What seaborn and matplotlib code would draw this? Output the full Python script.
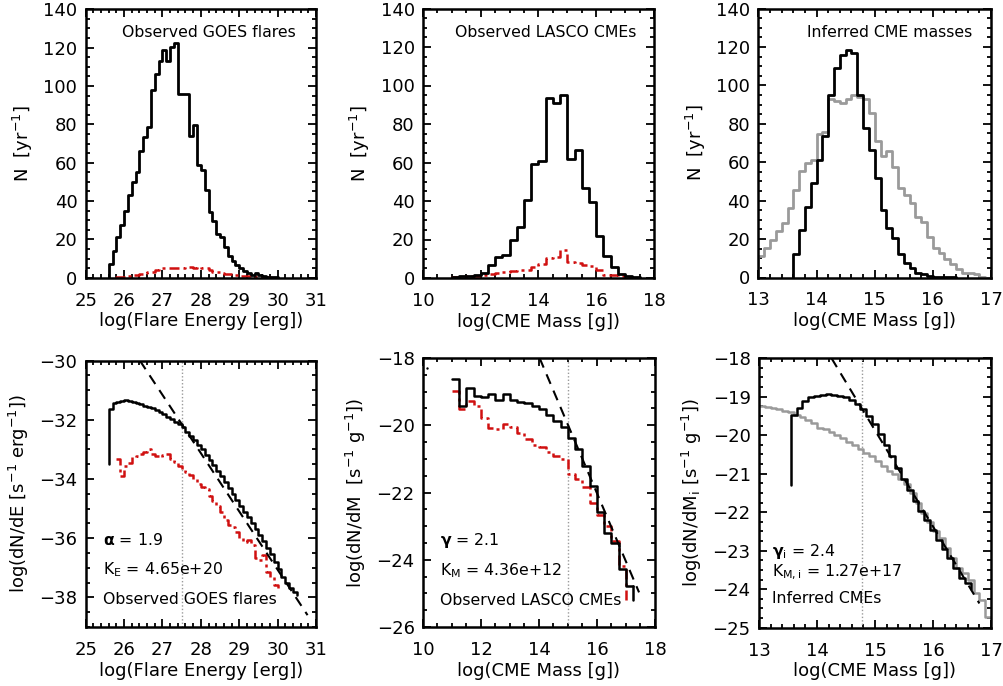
import numpy as np
import matplotlib
matplotlib.use("Agg")
import matplotlib.pyplot as plt
import seaborn as sns
from matplotlib.ticker import MultipleLocator, AutoMinorLocator

# ---------------- data ----------------
# Panel 1: observed GOES flare energy histogram (0.1 dex bins)
goes_start = 25.6
goes_counts = [7, 14, 21, 27.5, 35, 43, 50, 55, 66, 73.5, 78.5, 98, 106, 113, 119, 113,
               120.5, 122.6, 96, 96, 96, 74, 79.6, 58.8, 56, 45.7, 34.4, 29.7, 23, 21, 16,
               11.3, 8.7, 6.6, 5.2, 3.6, 2.3, 1.4, 2.3, 1.2, 0.9, 0.5, 0.3, 0.2]
goes_cme_start = 25.8
goes_cme_counts = [0.2, 0.3, 0.5, 0.8, 1.2, 1.5, 2, 2.5, 3.2, 3, 4, 4.5, 5.2, 5.0, 5.3, 5,
                   4.8, 5.2, 5.6, 5.8, 5.2, 5.5, 5, 4.8, 4, 3.2, 2.8, 2.4, 2, 1.8, 1.5, 1.3,
                   1.1, 1, 0.8, 0.7, 0.5, 0.5, 0.4, 0.3, 0.2, 0.1]

# Panel 2: observed LASCO CME mass histogram (0.25 dex bins)
lasco_start = 11.0
lasco_counts = [0.5, 0.8, 1.2, 1.7, 2.6, 7, 11, 11.8, 20, 26.6, 40.5, 59.3, 61, 93.6, 91,
                95.3, 61.7, 66.3, 47, 39.6, 21.7, 11.3, 5.7, 2.3, 1, 0.3]
lasco_flare_counts = [0.3, 0.5, 0.8, 1, 1.5, 2, 2.5, 3.2, 3.8, 4, 4.3, 5.5, 7.5, 10.2, 11,
                      14.4, 8.3, 7.8, 7, 6, 4, 1.5, 1.8, 0.8, 0.4]

# Panel 3: inferred CME masses (0.1 dex bins)
inf_start = 13.6
inf_counts = [12.2, 24.7, 36.5, 49, 61, 73.4, 95, 109, 115.7, 118.6, 117, 94.8, 77.7, 66.6,
              52, 35.3, 25.6, 20.3, 12.2, 7.8, 4.9, 2.6, 1.7, 0.9, 0.5, 0.3, 0.2, 0.1]
obs_start = 13.0
obs_counts = [11.3, 15.6, 19.5, 24.3, 28.2, 36, 45.6, 55.6, 59.5, 61, 74.8, 75.6, 93, 92,
              90.8, 92.7, 94.8, 94, 93, 85.6, 71, 63, 65.7, 57.4, 46.4, 43, 39, 31.7, 28.7,
              20.9, 15.6, 13, 9.6, 7, 4.3, 2.6, 2.1, 1.7, 0.3, 0.0]

# Panel 4: log(dN/dE), flares
flare_start = 25.6
flare_low = -33.5
flare_dnde = [-31.65, -31.45, -31.4, -31.37, -31.35, -31.36, -31.4, -31.45, -31.48, -31.52,
              -31.57, -31.62, -31.67, -31.74, -31.82, -31.9, -31.98, -32.07, -32.15, -32.25,
              -32.4, -32.55, -32.7, -32.85, -33.0, -33.18, -33.36, -33.54, -33.72, -33.9,
              -34.1, -34.3, -34.5, -34.7, -34.9, -35.1, -35.3, -35.5, -35.7, -35.9,
              -36.1, -36.32, -36.55, -36.8, -37.05, -37.3, -37.5, -37.68, -37.82, -37.92]
flare_cme_start = 25.8
flare_cme_dnde = [-33.33, -33.9, -33.55, -33.45, -33.27, -33.22, -33.16, -33.1, -33.0, -33.16,
                  -33.22, -33.27, -33.2, -33.16, -33.33, -33.44, -33.55, -33.66, -33.78,
                  -33.87, -34.0, -34.17, -34.28, -34.34, -34.56, -34.73, -34.9, -35.12, -35.4,
                  -35.56, -35.62, -35.79, -36.01, -36.12, -36.07, -36.23, -36.68, -36.74,
                  -36.57, -37.13, -37.3, -37.57, -37.68]
flare_fit_x = [26.41, 30.78]
flare_fit_y = [-30.0, -38.6]
flare_cut = 27.5

# Panel 5: log(dN/dM), LASCO CMEs (0.25 dex bins)
cme_start = 11.0
cme_dndm = [-18.61, -19.43, -18.88, -19.13, -19.16, -19.08, -19.26, -19.06, -19.26, -19.31,
            -19.35, -19.43, -19.52, -19.70, -19.87, -20.04, -20.37, -20.71, -21.21, -21.80,
            -22.59, -23.19, -23.49, -24.28, -24.79]
cme_end_low = -25.2
cme_flare_dndm = [-18.98, -19.52, -19.28, -19.43, -19.77, -20.07, -20.12, -19.97, -20.04,
                  -20.22, -20.42, -20.59, -20.64, -20.81, -20.91, -21.01, -21.46, -21.6,
                  -21.85, -22.3, -22.67, -22.99, -23.44, -24.18]
cme_flare_end_low = -25.3
cme_fit_x = [14.02, 17.45]
cme_fit_y = [-18.0, -24.97]
cme_cut = 15.0
cme_dot = (10.14, -18.3)

# Panel 6: log(dN/dMi), inferred CMEs (0.1 dex steps)
inf_dn_start = 13.55
inf_dn_low = -21.3
inf_dndm = [-19.47, -19.3, -19.1, -19.0, -18.97, -18.95, -18.94, -18.95, -18.97, -19.01,
            -19.08, -19.18, -19.32, -19.5, -19.72, -19.97, -20.25, -20.54, -20.84, -21.14,
            -21.43, -21.72, -21.98, -22.21, -22.47, -22.72, -22.95, -23.2, -23.44, -23.7,
            -23.85, -24.0]
obs_dn_start = 13.0
obs_dndm = [-19.25, -19.27, -19.3, -19.33, -19.37, -19.41, -19.47, -19.54, -19.6, -19.69,
            -19.8, -19.85, -19.91, -19.99, -20.08, -20.17, -20.26, -20.35, -20.45, -20.54,
            -20.66, -20.81, -20.92, -21.0, -21.15, -21.28, -21.51, -21.75, -22.03, -22.25,
            -22.49, -22.68, -22.94, -23.2, -23.46, -23.59, -23.77, -24.11, -24.29, -24.72]
inf_fit_x = [14.25, 16.8]
inf_fit_y = [-18.0, -24.37]
inf_cut = 14.78

# ---------------- style ----------------
sns.set_style("ticks")
plt.rcParams.update({
    "font.family": ["DejaVu Sans"],
    "mathtext.fontset": "dejavusans",
    "axes.linewidth": 1.8,
    "axes.edgecolor": "black",
    "text.color": "black",
    "axes.labelcolor": "black",
    "xtick.color": "black",
    "ytick.color": "black",
})

RED = "#d01010"
GRAY = "#9a9a9a"
DASHDOT = (0, (4, 1.6, 1.2, 1.6))
DASHED = (0, (5, 3.5))
TXT = 11.3
LAB = 13
TICK = 13

W, H = 1004, 686
fig = plt.figure(figsize=(W / 100, H / 100), dpi=100)


def add_ax(l, r, t, b):
    return fig.add_axes([l / W, 1 - b / H, (r - l) / W, (b - t) / H])


def style(ax, xlim, xmaj, xmin_n, ylim, ymaj, ymin_n, xlabel, ylabel):
    ax.set_xlim(xlim)
    ax.set_ylim(ylim)
    ax.xaxis.set_major_locator(MultipleLocator(xmaj))
    ax.xaxis.set_minor_locator(AutoMinorLocator(xmin_n))
    ax.yaxis.set_major_locator(MultipleLocator(ymaj))
    ax.yaxis.set_minor_locator(AutoMinorLocator(ymin_n))
    ax.tick_params(which="both", direction="in", top=True, right=True, width=1.3)
    ax.tick_params(which="major", length=6)
    ax.tick_params(which="minor", length=3)
    ax.tick_params(axis="x", which="major", pad=10, labelsize=TICK)
    ax.tick_params(axis="y", which="major", pad=6, labelsize=TICK)
    for s in ax.spines.values():
        s.set_visible(True)
        s.set_linewidth(1.8)
    ax.set_xlabel(xlabel, fontsize=LAB, labelpad=2)
    ax.set_ylabel(ylabel, fontsize=LAB, labelpad=6)


def hist_steps(ax, start, width, vals, **kw):
    edges = [start + width * i for i in range(len(vals) + 1)]
    x = [edges[0]] + edges
    y = [0.0] + list(vals) + [0.0]
    sns.lineplot(x=x, y=y, ax=ax, drawstyle="steps-post", estimator=None,
                 sort=False, legend=False, **kw)


def curve_steps(ax, start, width, vals, low_start=None, low_end=None, extend=True, **kw):
    x = [start + width * i for i in range(len(vals))]
    y = list(vals)
    if low_start is not None:
        x = [x[0]] + x
        y = [low_start] + y
    if extend:
        x = x + [start + width * len(vals)]
        y = y + [vals[-1] if low_end is None else low_end]
    sns.lineplot(x=x, y=y, ax=ax, drawstyle="steps-post", estimator=None,
                 sort=False, legend=False, **kw)


def line(ax, x, y, **kw):
    sns.lineplot(x=x, y=y, ax=ax, estimator=None, sort=False, legend=False, **kw)


# ---------------- top row ----------------
ax1 = add_ax(85.7, 316, 9.3, 277.7)
hist_steps(ax1, goes_cme_start, 0.1, goes_cme_counts, color=RED, linewidth=1.8, linestyle=DASHDOT)
hist_steps(ax1, goes_start, 0.1, goes_counts, color="black", linewidth=2.0)
style(ax1, (25, 31), 1, 5, (0, 140), 20, 4, "log(Flare Energy [erg])", r"N  [yr$^{-1}$]")
ax1.text(0.158, 0.912, "Observed GOES flares", transform=ax1.transAxes, fontsize=TXT,
         ha="left", va="center")

ax2 = add_ax(423, 654, 8.5, 278)
hist_steps(ax2, lasco_start, 0.25, lasco_flare_counts, color=RED, linewidth=1.8, linestyle=DASHDOT)
hist_steps(ax2, lasco_start, 0.25, lasco_counts, color="black", linewidth=2.0)
style(ax2, (10, 18), 2, 4, (0, 140), 20, 4, "log(CME Mass [g])", r"N  [yr$^{-1}$]")
ax2.text(0.139, 0.912, "Observed LASCO CMEs", transform=ax2.transAxes, fontsize=TXT,
         ha="left", va="center")

ax3 = add_ax(758.5, 991, 8.5, 277.5)
hist_steps(ax3, obs_start, 0.1, obs_counts, color=GRAY, linewidth=2.0)
hist_steps(ax3, inf_start, 0.1, inf_counts, color="black", linewidth=2.0)
style(ax3, (13, 17), 1, 5, (0, 140), 20, 4, "log(CME Mass [g])", r"N  [yr$^{-1}$]")
ax3.text(0.208, 0.912, "Inferred CME masses", transform=ax3.transAxes, fontsize=TXT,
         ha="left", va="center")

# ---------------- bottom row ----------------
ax4 = add_ax(85.7, 316, 360.5, 627)
ax4.axvline(flare_cut, color=GRAY, linewidth=1.0, linestyle=(0, (1, 1.5)))
curve_steps(ax4, flare_cme_start, 0.1, flare_cme_dnde, extend=False,
            color=RED, linewidth=1.8, linestyle=DASHDOT)
line(ax4, flare_fit_x, flare_fit_y, color="black", linewidth=1.5, linestyle=DASHED)
curve_steps(ax4, flare_start, 0.1, flare_dnde, low_start=flare_low, extend=False,
            color="black", linewidth=1.8)
style(ax4, (25, 31), 1, 5, (-39, -30), 2, 4, "log(Flare Energy [erg])",
      r"log(dN/dE [s$^{-1}$ erg$^{-1}$])")
ax4.text(0.075, 0.328, r"$\mathbf{\alpha}$ = 1.9", transform=ax4.transAxes, fontsize=TXT, va="center")
ax4.text(0.075, 0.216, r"K$_\mathrm{E}$ = 4.65e+20", transform=ax4.transAxes, fontsize=TXT, va="center")
ax4.text(0.075, 0.104, "Observed GOES flares", transform=ax4.transAxes, fontsize=TXT, va="center")

ax5 = add_ax(423, 655, 358, 627)
ax5.axvline(cme_cut, color=GRAY, linewidth=1.0, linestyle=(0, (1, 1.5)))
curve_steps(ax5, cme_start, 0.25, cme_flare_dndm, low_end=cme_flare_end_low,
            color=RED, linewidth=1.8, linestyle=DASHDOT)
curve_steps(ax5, cme_start, 0.25, cme_dndm, color="black", linewidth=1.8)
line(ax5, [cme_start + 0.25 * len(cme_dndm)] * 2, [cme_dndm[-1], cme_end_low],
     color="black", linewidth=1.8)
line(ax5, cme_fit_x, cme_fit_y, color="black", linewidth=1.5, linestyle=DASHED)
sns.scatterplot(x=[cme_dot[0]], y=[cme_dot[1]], ax=ax5, color="black", s=3, linewidth=0, legend=False)
style(ax5, (10, 18), 2, 4, (-26, -18), 2, 4, "log(CME Mass [g])",
      r"log(dN/dM  [s$^{-1}$ g$^{-1}$])")
ax5.text(0.073, 0.321, r"$\mathbf{\gamma}$ = 2.1", transform=ax5.transAxes, fontsize=TXT, va="center")
ax5.text(0.073, 0.209, r"K$_\mathrm{M}$ = 4.36e+12", transform=ax5.transAxes, fontsize=TXT, va="center")
ax5.text(0.073, 0.097, "Observed LASCO CMEs", transform=ax5.transAxes, fontsize=TXT, va="center")

ax6 = add_ax(759, 991, 358.2, 627.7)
ax6.axvline(inf_cut, color=GRAY, linewidth=1.0, linestyle=(0, (1, 1.5)))
curve_steps(ax6, obs_dn_start, 0.1, obs_dndm, color=GRAY, linewidth=1.8)
curve_steps(ax6, inf_dn_start, 0.1, inf_dndm, low_start=inf_dn_low, extend=False,
            color="black", linewidth=1.8)
line(ax6, inf_fit_x, inf_fit_y, color="black", linewidth=1.5, linestyle=DASHED)
style(ax6, (13, 17), 1, 5, (-25, -18), 1, 4, "log(CME Mass [g])",
      r"log(dN/dM$_\mathrm{i}$ [s$^{-1}$ g$^{-1}$])")
ax6.text(0.056, 0.284, r"$\mathbf{\gamma}_\mathrm{i}$ = 2.4", transform=ax6.transAxes, fontsize=TXT, va="center")
ax6.text(0.056, 0.205, r"K$_\mathrm{M,i}$ = 1.27e+17", transform=ax6.transAxes, fontsize=TXT, va="center")
ax6.text(0.056, 0.108, "Inferred CMEs", transform=ax6.transAxes, fontsize=TXT, va="center")

fig.savefig("out.png", dpi=100)
